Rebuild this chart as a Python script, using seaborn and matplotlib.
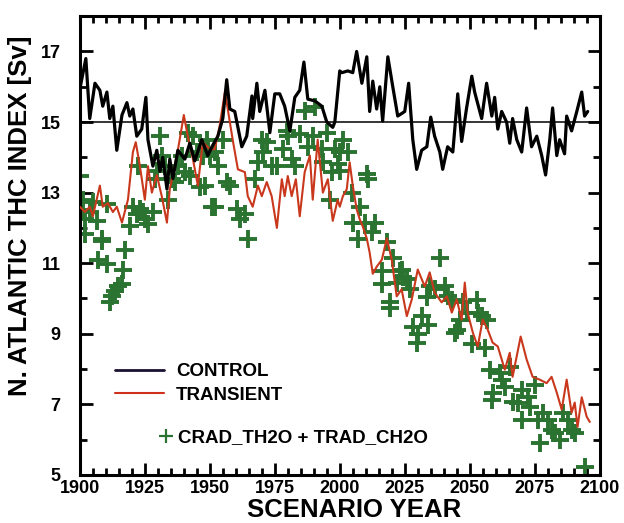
"""N. Atlantic THC index: control vs transient run, with CRAD/TRAD points."""

import matplotlib.pyplot as plt
import seaborn as sns
from matplotlib.lines import Line2D
from matplotlib.ticker import MultipleLocator

sns.set_theme(style="ticks")
plt.rcParams["font.family"] = ["Liberation Sans", "DejaVu Sans"]
plt.rcParams["font.weight"] = "bold"
for key in ("text.color", "axes.labelcolor", "xtick.color", "ytick.color", "axes.edgecolor"):
    plt.rcParams[key] = "black"

control_years = [
    1900.0, 1902.3, 1903.8, 1905.8, 1907.7, 1908.8, 1910.4, 1911.5, 1912.7, 1914.2,
    1916.2, 1918.1, 1919.2, 1920.4, 1921.9, 1923.8, 1925.4, 1926.2, 1928.1, 1929.6,
    1930.8, 1931.9, 1933.5, 1934.6, 1935.8, 1937.7, 1940.4, 1942.3, 1944.2, 1946.9,
    1949.2, 1950.8, 1953.1, 1955.0, 1956.5, 1957.7, 1959.6, 1962.3, 1964.2, 1966.2,
    1966.5, 1968.1, 1969.2, 1971.2, 1973.1, 1975.0, 1976.9, 1978.8, 1980.8, 1982.7,
    1984.6, 1986.2, 1987.7, 1990.4, 1993.1, 1995.0, 1997.3, 1998.1, 2000.0, 2000.8,
    2003.1, 2005.0, 2006.5, 2008.5, 2010.4, 2011.5, 2012.7, 2014.2, 2015.4, 2016.5,
    2018.5, 2020.4, 2022.3, 2025.0, 2026.5, 2028.1, 2029.6, 2031.5, 2033.5, 2035.0,
    2036.5, 2038.5, 2039.6, 2041.5, 2043.5, 2045.4, 2046.9, 2048.8, 2050.8, 2051.9,
    2054.6, 2056.5, 2058.5, 2059.6, 2060.8, 2062.3, 2064.2, 2065.4, 2066.5, 2068.1,
    2070.0, 2071.9, 2073.8, 2075.8, 2077.7, 2079.2, 2080.8, 2081.9, 2083.5, 2084.6,
    2086.5, 2087.3, 2089.2, 2091.2, 2093.1, 2094.2, 2095.4,
]
control_thc = [
    15.94, 16.8, 15.1, 16.1, 15.9, 15.45, 15.85, 15.1, 15.45, 14.2,
    15.2, 15.55, 15.17, 15.37, 14.6, 14.8, 15.7, 14.5, 13.75, 14.2,
    13.6, 14.0, 13.1, 13.95, 13.4, 14.2, 13.95, 14.4, 13.9, 14.5,
    14.05, 14.3, 14.6, 15.1, 16.2, 15.37, 15.3, 14.3, 14.6, 15.74,
    15.1, 16.1, 15.3, 15.9, 14.7, 15.8, 15.8, 15.45, 14.75, 15.7,
    15.9, 16.7, 15.65, 15.6, 15.45, 15.0, 14.85, 15.0, 16.45, 16.4,
    16.45, 16.4, 17.0, 16.1, 16.85, 15.3, 16.16, 15.37, 16.0, 15.03,
    16.85, 16.0, 15.17, 15.3, 16.1, 14.5, 13.66, 14.2, 14.3, 15.14,
    14.6, 14.15, 13.66, 14.3, 14.15, 15.8, 14.45, 15.4, 16.3, 15.85,
    15.1, 16.1, 15.17, 15.7, 14.8, 15.3, 15.0, 14.4, 15.1, 14.5,
    14.15, 15.4, 14.3, 14.6, 14.05, 13.5, 14.5, 15.4, 14.05, 14.5,
    14.1, 15.17, 14.75, 15.3, 15.85, 15.17, 15.3,
]

transient_years = [
    1900.0, 1901.9, 1903.8, 1905.0, 1907.7, 1908.8, 1910.8, 1912.7, 1914.2, 1916.2,
    1918.5, 1920.4, 1921.5, 1923.1, 1925.0, 1926.2, 1927.7, 1929.6, 1931.5, 1933.5,
    1934.6, 1936.5, 1937.7, 1940.0, 1941.5, 1943.5, 1945.4, 1947.3, 1950.0, 1951.9,
    1953.8, 1955.8, 1956.9, 1958.8, 1960.8, 1963.5, 1964.6, 1966.5, 1968.5, 1970.0,
    1971.9, 1973.8, 1975.8, 1977.7, 1978.8, 1980.0, 1981.5, 1983.1, 1984.6, 1986.5,
    1988.5, 1989.6, 1991.5, 1993.5, 1995.4, 1997.3, 1999.2, 2000.0, 2001.2, 2002.7,
    2003.8, 2005.0, 2006.5, 2007.7, 2008.8, 2010.4, 2011.5, 2012.7, 2014.2, 2016.2,
    2018.1, 2020.0, 2021.9, 2023.8, 2025.8, 2027.7, 2030.0, 2032.7, 2034.6, 2036.5,
    2039.2, 2041.2, 2043.1, 2045.0, 2046.9, 2048.1, 2049.2, 2051.2, 2053.1, 2055.0,
    2056.9, 2058.8, 2060.8, 2063.5, 2065.4, 2066.5, 2069.6, 2071.9, 2074.2, 2076.9,
    2079.6, 2081.5, 2083.5, 2085.4, 2087.3, 2089.2, 2090.4, 2091.5, 2093.1, 2095.0,
    2096.2,
]
transient_thc = [
    12.6, 12.45, 12.6, 12.33, 13.2, 12.6, 12.7, 12.45, 12.6, 12.15,
    12.8, 14.15, 14.43, 13.75, 12.8, 13.75, 13.0, 13.5, 12.9, 12.15,
    13.1, 13.75, 14.2, 15.2, 14.6, 13.95, 13.2, 14.43, 14.23, 14.23,
    14.9, 15.85, 15.37, 14.5, 13.66, 13.58, 12.9, 12.6, 13.2, 12.9,
    13.3, 12.9, 12.0, 13.38, 12.9, 13.47, 12.9, 13.38, 12.33, 13.58,
    14.05, 12.8, 14.5, 13.0, 13.38, 12.2, 12.8, 12.6, 12.9, 13.1,
    13.86, 13.2, 12.53, 12.24, 12.05, 11.7, 11.3, 10.7, 10.9, 11.1,
    11.7, 11.1, 10.06, 10.26, 9.5, 9.97, 10.82, 10.34, 10.74, 10.17,
    9.89, 10.06, 9.6, 9.97, 9.4, 10.45, 9.6, 9.03, 8.64, 9.4,
    9.12, 8.75, 8.64, 7.98, 8.46, 7.78, 8.92, 8.27, 7.78, 7.7,
    7.6, 7.78, 7.33, 6.85, 7.7, 6.76, 7.05, 6.36, 7.2, 6.65,
    6.5,
]

crad_years = [
    1900.0, 1900.8, 1901.2, 1901.9, 1903.8, 1905.0, 1906.5, 1908.5, 1910.4, 1901.9,
    1908.5, 1917.3, 1906.9, 1910.4, 1916.5, 1914.6, 1913.5, 1912.3, 1911.5, 1916.2,
    1919.2, 1920.4, 1921.9, 1923.1, 1924.2, 1925.0, 1926.2, 1928.1, 1922.3, 1930.8,
    1929.6, 1928.8, 1931.5, 1932.7, 1933.8, 1935.4, 1936.5, 1937.7, 1939.2, 1940.4,
    1942.3, 1943.5, 1945.0, 1946.2, 1947.3, 1949.2, 1950.8, 1941.5, 1948.8, 1950.0,
    1951.9, 1953.1, 1955.0, 1948.1, 1956.5, 1957.7, 1951.9, 1960.4, 1961.5, 1963.5,
    1964.6, 1967.3, 1968.5, 1970.0, 1971.9, 1970.4, 1973.8, 1975.8, 1978.1, 1980.0,
    1981.5, 1982.7, 1979.6, 1984.6, 1986.5, 1987.7, 1989.6, 1990.4, 1993.1, 1993.5,
    1995.0, 1996.2, 1996.9, 1998.1, 1999.2, 2000.0, 2001.2, 2003.1, 2000.0, 2010.4,
    2010.8, 2004.6, 2007.7, 2005.0, 2006.9, 2009.6, 2013.5, 2012.3, 2018.1, 2020.4,
    2023.8, 2016.2, 2038.5, 2016.2, 2023.1, 2024.2, 2025.8, 2021.9, 2026.9, 2019.2,
    2019.2, 2028.1, 2030.0, 2029.6, 2031.5, 2033.8, 2033.5, 2034.6, 2036.5, 2040.4,
    2041.5, 2043.1, 2045.0, 2044.2, 2046.2, 2047.3, 2048.8, 2050.8, 2052.7, 2053.1,
    2054.6, 2055.8, 2056.5, 2057.7, 2058.8, 2058.5, 2061.5, 2062.3, 2063.5, 2065.4,
    2066.5, 2068.5, 2070.0, 2070.0, 2072.3, 2073.1, 2075.0, 2076.2, 2076.9, 2078.1,
    2080.0, 2081.5, 2082.7, 2084.6, 2085.8, 2087.7, 2089.2, 2090.4, 2094.2,
]
crad_thc = [
    13.47, 12.5, 12.8, 12.24, 12.45, 12.73, 12.2, 11.68, 12.67, 11.82,
    11.62, 11.36, 11.1, 10.97, 10.82, 10.34, 10.2, 10.06, 9.89, 10.4,
    12.05, 12.6, 12.4, 12.53, 12.45, 12.24, 12.1, 12.45, 13.75, 14.6,
    13.6, 13.38, 14.05, 13.75, 12.8, 13.38, 13.3, 13.75, 14.05, 13.58,
    13.47, 14.6, 14.15, 13.15, 14.05, 14.23, 12.6, 14.7, 14.5, 14.05,
    14.15, 13.75, 14.5, 13.2, 13.3, 13.2, 12.6, 12.53, 12.24, 12.4,
    11.68, 13.38, 13.86, 14.5, 14.43, 14.15, 13.75, 13.75, 14.23, 14.6,
    13.95, 13.75, 14.75, 14.66, 15.3, 14.3, 14.6, 15.43, 14.23, 13.86,
    14.7, 12.8, 13.58, 14.23, 13.8, 14.15, 14.5, 14.15, 13.6, 13.52,
    13.38, 13.0, 12.6, 12.15, 11.68, 12.15, 12.15, 11.87, 11.6, 11.16,
    10.82, 10.77, 11.16, 10.4, 10.77, 10.62, 10.54, 10.45, 10.26, 9.9,
    9.72, 9.2, 8.98, 8.75, 9.5, 9.26, 10.03, 10.34, 10.26, 10.34,
    10.06, 9.97, 9.12, 9.03, 9.4, 9.89, 9.6, 8.7, 9.97, 9.6,
    9.5, 8.6, 9.4, 7.98, 7.33, 7.13, 7.9, 7.7, 7.5, 8.07,
    7.07, 7.05, 7.41, 6.56, 7.22, 6.93, 7.56, 6.56, 5.9, 6.76,
    6.56, 6.28, 6.2, 6.0, 6.76, 6.56, 6.28, 6.2, 5.23,
]

reference_level = 15
y_ticks = [5, 7, 9, 11, 13, 15, 17]

fig = plt.figure(figsize=(6.24, 5.23), dpi=100)
ax = fig.add_axes([0.128, 0.092, 0.833, 0.877])

ax.axhline(reference_level, color="black", lw=1.1, zorder=1)
sns.scatterplot(x=crad_years, y=crad_thc, marker="+", s=150, linewidth=2.8,
                color="#2b7330", ax=ax, zorder=2)
sns.lineplot(x=transient_years, y=transient_thc, sort=False, estimator=None,
             color="#c9381c", lw=1.5, ax=ax, zorder=3)
sns.lineplot(x=control_years, y=control_thc, sort=False, estimator=None,
             color="black", lw=2.3, ax=ax, zorder=4)

ax.set_xlim(1900, 2100)
ax.set_ylim(5, 18)
ax.xaxis.set_major_locator(MultipleLocator(25))
ax.xaxis.set_minor_locator(MultipleLocator(5))
ax.set_yticks(y_ticks)
ax.yaxis.set_minor_locator(MultipleLocator(1))
ax.tick_params(which="both", direction="in", top=True, right=True, width=2)
ax.tick_params(which="major", length=9, labelsize=13)
ax.tick_params(which="minor", length=5)
ax.tick_params(axis="x", which="major", pad=3.5)
ax.tick_params(axis="y", which="major", pad=14)
for lab in ax.get_xticklabels() + ax.get_yticklabels():
    lab.set_fontweight("bold")
for sp in ax.spines.values():
    sp.set_linewidth(2.2)

ax.set_xlabel("SCENARIO YEAR", fontsize=18.5, fontweight="bold")
ax.xaxis.set_label_coords(0.528, -0.05)
ax.set_ylabel("N. ATLANTIC THC INDEX [Sv]", fontsize=18.5, fontweight="bold")
ax.yaxis.set_label_coords(-0.093, 0.564)

line_handles = [
    Line2D([], [], color="#1a1030", lw=2),
    Line2D([], [], color="#d0301c", lw=1.5),
]
leg1 = ax.legend(line_handles, ["CONTROL", "TRANSIENT"], loc="lower left",
                 bbox_to_anchor=(0.035, 0.118), frameon=False, handlelength=2.6,
                 handletextpad=0.65, labelspacing=0.35,
                 prop={"size": 13.5, "weight": "bold"})
ax.add_artist(leg1)
plus_handle = [Line2D([], [], ls="none", marker="+", ms=10, mew=1.6, color="#2b7330")]
ax.legend(plus_handle, ["CRAD_TH2O + TRAD_CH2O"], loc="lower left",
          bbox_to_anchor=(0.122, 0.026), frameon=False, handlelength=0.6,
          handletextpad=0.35, prop={"size": 13.5, "weight": "bold"})

fig.savefig("out.png", dpi=100)
